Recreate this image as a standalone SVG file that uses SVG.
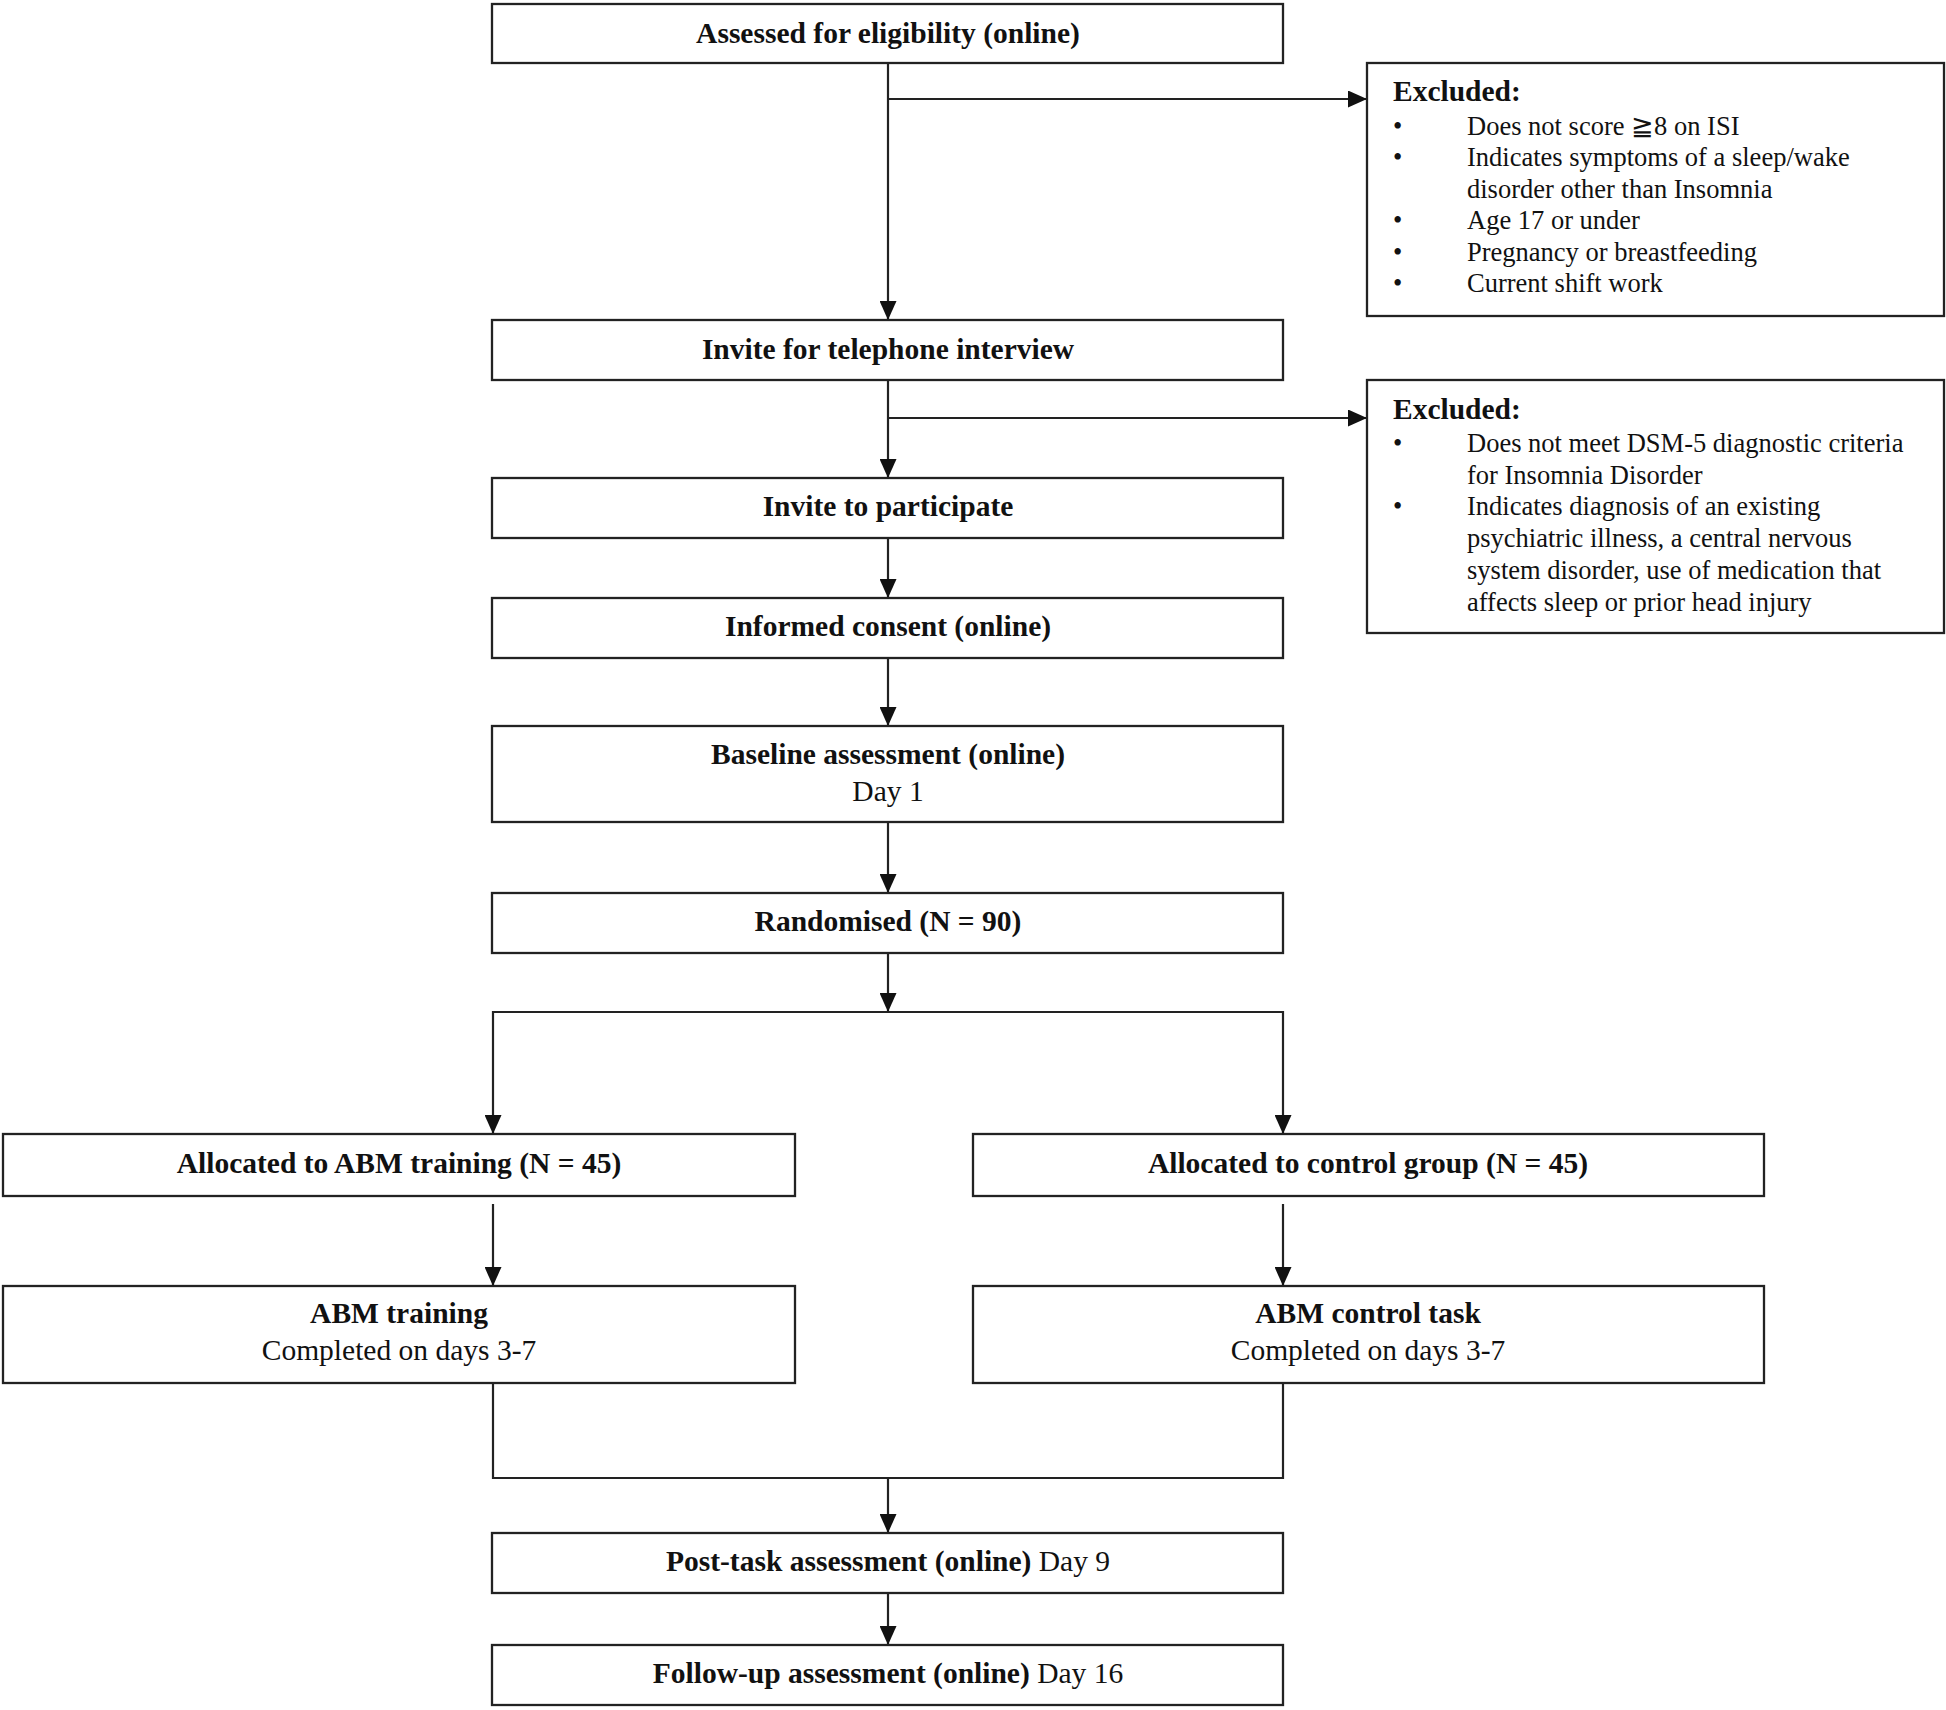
<svg xmlns="http://www.w3.org/2000/svg" width="1946" height="1710" viewBox="0 0 1946 1710">
<defs>
<style>
.box{fill:#fff;stroke:#222;stroke-width:2.3}
.ln{fill:none;stroke:#222;stroke-width:2.2}
.t{font-family:"Liberation Serif","Times New Roman","DejaVu Serif",serif;font-size:29.5px;fill:#111}
.b{font-weight:bold}
.c{text-anchor:middle}
.e{font-family:"Liberation Serif","Times New Roman","DejaVu Serif",serif;font-size:26.5px;fill:#111}
</style>
<marker id="ah" markerUnits="userSpaceOnUse" markerWidth="19" markerHeight="17" refX="19" refY="8.5" orient="auto">
<path d="M0,0 L19,8.5 L0,17 z" fill="#111"/>
</marker>
</defs>
<rect width="1946" height="1710" fill="#fff"/>

<g id="connectors">
<line class="ln" x1="888" y1="63" x2="888" y2="320" marker-end="url(#ah)"/>
<line class="ln" x1="888" y1="99" x2="1367" y2="99" marker-end="url(#ah)"/>
<line class="ln" x1="888" y1="380" x2="888" y2="478" marker-end="url(#ah)"/>
<line class="ln" x1="888" y1="418" x2="1367" y2="418" marker-end="url(#ah)"/>
<line class="ln" x1="888" y1="538" x2="888" y2="598" marker-end="url(#ah)"/>
<line class="ln" x1="888" y1="658" x2="888" y2="726" marker-end="url(#ah)"/>
<line class="ln" x1="888" y1="822" x2="888" y2="893" marker-end="url(#ah)"/>
<line class="ln" x1="888" y1="953" x2="888" y2="1012" marker-end="url(#ah)"/>
<polyline class="ln" points="890,1012 493,1012 493,1134" marker-end="url(#ah)"/>
<polyline class="ln" points="886,1012 1283,1012 1283,1134" marker-end="url(#ah)"/>
<line class="ln" x1="493" y1="1204" x2="493" y2="1286" marker-end="url(#ah)"/>
<line class="ln" x1="1283" y1="1204" x2="1283" y2="1286" marker-end="url(#ah)"/>
<polyline class="ln" points="493,1383 493,1478 1283,1478 1283,1383"/>
<line class="ln" x1="888" y1="1478" x2="888" y2="1533" marker-end="url(#ah)"/>
<line class="ln" x1="888" y1="1593" x2="888" y2="1645" marker-end="url(#ah)"/>
</g>

<g id="n1"><rect class="box" x="492" y="4" width="791" height="59"/>
<text class="t b c" x="888" y="43">Assessed for eligibility (online)</text></g>

<g id="excl1"><rect class="box" x="1367" y="63" width="577" height="253"/>
<text class="t b" x="1393" y="101">Excluded:</text>
<g class="e">
<text x="1393" y="135">•</text><text x="1467" y="135">Does not score ≧8 on ISI</text>
<text x="1393" y="166">•</text><text x="1467" y="166">Indicates symptoms of a sleep/wake</text>
<text x="1467" y="198">disorder other than Insomnia</text>
<text x="1393" y="229">•</text><text x="1467" y="229">Age 17 or under</text>
<text x="1393" y="261">•</text><text x="1467" y="261">Pregnancy or breastfeeding</text>
<text x="1393" y="292">•</text><text x="1467" y="292">Current shift work</text>
</g></g>

<g id="n2"><rect class="box" x="492" y="320" width="791" height="60"/>
<text class="t b c" x="888" y="359">Invite for telephone interview</text></g>

<g id="excl2"><rect class="box" x="1367" y="380" width="577" height="253"/>
<text class="t b" x="1393" y="419">Excluded:</text>
<g class="e">
<text x="1393" y="452">•</text><text x="1467" y="452">Does not meet DSM-5 diagnostic criteria</text>
<text x="1467" y="484">for Insomnia Disorder</text>
<text x="1393" y="515">•</text><text x="1467" y="515">Indicates diagnosis of an existing</text>
<text x="1467" y="547">psychiatric illness, a central nervous</text>
<text x="1467" y="579">system disorder, use of medication that</text>
<text x="1467" y="611">affects sleep or prior head injury</text>
</g></g>

<g id="n3"><rect class="box" x="492" y="478" width="791" height="60"/>
<text class="t b c" x="888" y="516">Invite to participate</text></g>

<g id="n4"><rect class="box" x="492" y="598" width="791" height="60"/>
<text class="t b c" x="888" y="636">Informed consent (online)</text></g>

<g id="n5"><rect class="box" x="492" y="726" width="791" height="96"/>
<text class="t b c" x="888" y="764">Baseline assessment (online)</text>
<text class="t c" x="888" y="801">Day 1</text></g>

<g id="n6"><rect class="box" x="492" y="893" width="791" height="60"/>
<text class="t b c" x="888" y="931">Randomised (N = 90)</text></g>

<g id="n7"><rect class="box" x="3" y="1134" width="792" height="62"/>
<text class="t b c" x="399" y="1173">Allocated to ABM training (N = 45)</text></g>

<g id="n8"><rect class="box" x="973" y="1134" width="791" height="62"/>
<text class="t b c" x="1368" y="1173">Allocated to control group (N = 45)</text></g>

<g id="n9"><rect class="box" x="3" y="1286" width="792" height="97"/>
<text class="t b c" x="399" y="1323">ABM training</text>
<text class="t c" x="399" y="1360">Completed on days 3-7</text></g>

<g id="n10"><rect class="box" x="973" y="1286" width="791" height="97"/>
<text class="t b c" x="1368" y="1323">ABM control task</text>
<text class="t c" x="1368" y="1360">Completed on days 3-7</text></g>

<g id="n11"><rect class="box" x="492" y="1533" width="791" height="60"/>
<text class="t c" x="888" y="1571"><tspan class="b">Post-task assessment (online)</tspan> Day 9</text></g>

<g id="n12"><rect class="box" x="492" y="1645" width="791" height="60"/>
<text class="t c" x="888" y="1683"><tspan class="b">Follow-up assessment (online)</tspan> Day 16</text></g>
</svg>
